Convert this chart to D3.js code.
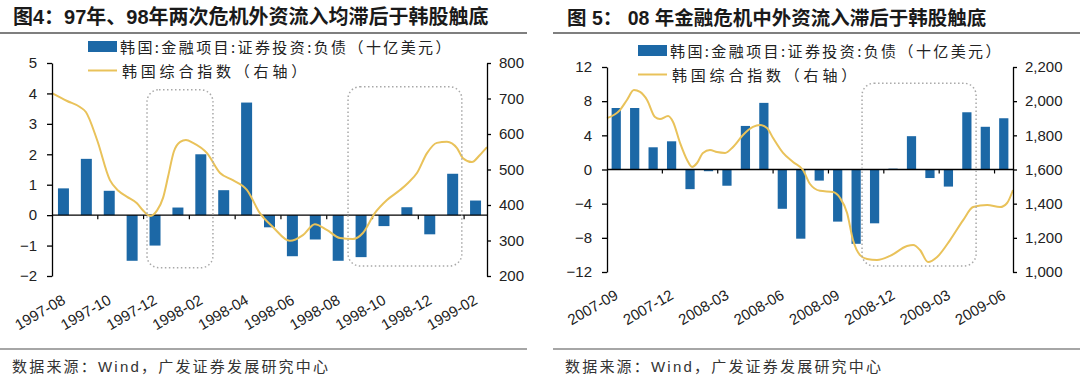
<!DOCTYPE html>
<html><head><meta charset="utf-8">
<script src="https://cdn.jsdelivr.net/npm/d3@7"></script>
<style>
body{margin:0;background:#fff;}
svg{display:block;}
</style></head><body><svg id="c" width="1080" height="391"></svg>
<script>
// ---------- DATA ----------
const months97 = ["1997-08","1997-09","1997-10","1997-11","1997-12","1998-01","1998-02","1998-03","1998-04","1998-05","1998-06","1998-07","1998-08","1998-09","1998-10","1998-11","1998-12","1999-01","1999-02"];
const flows97 = [0.88,1.85,0.8,-1.5,-1.0,0.25,2.0,0.82,3.7,-0.4,-1.35,-0.8,-1.5,-1.38,-0.36,0.26,-0.63,1.36,0.48];
const xTicks97 = ["1997-08","1997-10","1997-12","1998-02","1998-04","1998-06","1998-08","1998-10","1998-12","1999-02"];
const yLeftTicks97 = [-2,-1,0,1,2,3,4,5];
const yRightTicks97 = [200,300,400,500,600,700,800];
// KOSPI (right axis), position in months from start of 1997-08
const kospi97Pos = [0,0.66,1.22,1.48,1.97,2.53,2.9,3.28,3.71,3.97,4.28,4.59,4.85,5.07,5.32,5.6,5.85,6.16,6.77,7.34,7.9,8.52,9.08,9.65,10.39,10.96,11.48,12.0,12.58,13.14,13.58,14.1,14.63,15.2,15.55,15.94,16.38,16.81,17.25,17.69,17.95,18.34,18.69,19.0];
const kospi97Val = [715,693,676,662,583,470,440,423,405,385,369,385,420,480,550,578,583,575,546,490,470,442,377,338,299,315,346,330,307,304,321,377,414,442,462,490,546,575,578,560,532,521,541,563];

const months08 = ["2007-09","2007-10","2007-11","2007-12","2008-01","2008-02","2008-03","2008-04","2008-05","2008-06","2008-07","2008-08","2008-09","2008-10","2008-11","2008-12","2009-01","2009-02","2009-03","2009-04","2009-05","2009-06"];
const flows08 = [7.2,7.2,2.6,3.3,-2.3,-0.2,-1.9,5.1,7.8,-4.6,-8.1,-1.3,-6.1,-8.7,-6.3,0.1,3.9,-1.0,-2.0,6.7,5.0,6.0];
const xTicks08 = ["2007-09","2007-12","2008-03","2008-06","2008-09","2008-12","2009-03","2009-06"];
const yLeftTicks08 = [-12,-8,-4,0,4,8,12];
const yRightTicks08 = [1000,1200,1400,1600,1800,2000,2200];
const kospi08Pos = [0,0.7,1.08,1.46,1.79,2.17,2.6,2.87,3.31,3.58,3.96,4.34,4.61,4.88,5.2,5.58,5.96,6.4,6.83,7.37,7.91,8.29,8.67,9.0,9.54,10.08,10.62,11.0,11.54,12.25,12.63,13.01,13.33,13.71,14.09,14.63,15.34,16.26,16.59,16.96,17.4,17.89,18.59,19.3,19.84,20.6,21.3,21.68,22.0];
const kospi08Val = [1901,1948,2007,2065,2054,2007,1907,1895,1913,1878,1755,1656,1615,1638,1697,1714,1702,1697,1732,1802,1849,1860,1843,1784,1697,1644,1597,1515,1475,1468,1433,1345,1187,1099,1076,1070,1094,1152,1158,1129,1058,1088,1187,1304,1380,1392,1380,1404,1480];

const title97 = "图4：97年、98年两次危机外资流入均滞后于韩股触底";
const title08 = "图 5： 08 年金融危机中外资流入滞后于韩股触底";
const legendBar = "韩国:金融项目:证券投资:负债（十亿美元）";
const legendLine = "韩国综合指数（右轴）";
const sourceText = "数据来源：Wind，广发证券发展研究中心";

// highlight boxes: [startMonthPos, endMonthPos, leftAxisTop, leftAxisBottom]
const boxes97 = [[4.15,7.03,4.12,-1.73],[12.93,17.9,4.22,-1.67]];
const boxes08 = [[13.82,20.0,10.1,-11.3]];

// ---------- DRAW ----------
const BLUE = "#1c68a6", GOLD = "#e9c25a";
const NUM = "'Liberation Sans', Arial, sans-serif";
const CJK = "'Noto Sans CJK SC', sans-serif";
const MIX = "'Liberation Sans', 'Noto Sans CJK SC', sans-serif";
const svg = d3.select("#c");

function panel(o){
  const g = svg.append("g");
  const n = o.cats.length;
  const x = d3.scaleBand().domain(o.cats).range([o.x0,o.x1]).paddingInner(o.pad).paddingOuter(o.pad/2);
  const xl = d3.scaleLinear().domain([0,n]).range([o.x0,o.x1]);
  const yl = d3.scaleLinear().domain(o.yLdom).range([o.yb,o.yt]);
  const yr = d3.scaleLinear().domain(o.yRdom).range([o.yb,o.yt]);

  // title + rules
  g.append("text").attr("x",o.titleX).attr("y",o.titleY).attr("font-family",MIX).attr("font-weight","bold")
    .attr("font-size",o.titleSize).attr("fill","#1a1a1a").attr("dominant-baseline","central").text(o.title);
  g.append("line").attr("x1",o.ruleX0).attr("x2",o.ruleX1).attr("y1",33).attr("y2",33).attr("stroke","#555").attr("stroke-width",1.6);
  g.append("line").attr("x1",o.ruleX0).attr("x2",o.ruleX1).attr("y1",349).attr("y2",349).attr("stroke","#888").attr("stroke-width",1.6);
  g.append("text").attr("x",o.srcX).attr("y",366).attr("font-family",MIX).attr("font-size",15)
    .attr("letter-spacing",2.2).attr("fill","#333").attr("dominant-baseline","central").text(sourceText);

  // bars
  g.append("g").selectAll("rect").data(o.vals).join("rect")
    .attr("x",(d,i)=>x(o.cats[i])).attr("width",x.bandwidth())
    .attr("y",d=>yl(Math.max(0,d))).attr("height",d=>Math.abs(yl(d)-yl(0)))
    .attr("fill",BLUE);

  // zero axis with ticks at category boundaries
  const y0 = yl(0);
  g.append("line").attr("x1",o.x0).attr("x2",o.x1).attr("y1",y0).attr("y2",y0).attr("stroke","#000").attr("stroke-width",1.3);
  const tb = d3.range(o.step, n, o.step);
  g.append("g").selectAll("line").data(tb).join("line")
    .attr("x1",d=>xl(d)).attr("x2",d=>xl(d)).attr("y1",y0).attr("y2",y0+4).attr("stroke","#000").attr("stroke-width",1.2);

  // x labels
  g.append("g").selectAll("text").data(o.xTicks).join("text")
    .attr("transform",d=>`translate(${x(d)+x.bandwidth()/2+3},${o.labY}) rotate(-30)`)
    .attr("text-anchor","end").attr("font-family",NUM).attr("font-size",15).attr("fill","#222").text(d=>d);

  // line
  const pts = o.linePos.map((p,i)=>[p,o.lineVal[i]]);
  g.append("path").datum(pts).attr("fill","none").attr("stroke",GOLD).attr("stroke-width",2)
    .attr("d",d3.line().x(d=>xl(d[0])).y(d=>yr(d[1])).curve(d3.curveMonotoneX));

  // boxes
  g.append("g").selectAll("rect").data(o.boxes).join("rect")
    .attr("x",d=>xl(d[0])).attr("width",d=>xl(d[1])-xl(d[0]))
    .attr("y",d=>yl(d[2])).attr("height",d=>yl(d[3])-yl(d[2]))
    .attr("rx",12).attr("ry",12).attr("fill","none").attr("stroke","#a8a8a8").attr("stroke-width",1.5).attr("stroke-dasharray","1.5,2.5");

  // y axes
  const aL = g.append("g").attr("transform",`translate(${o.x0},0)`)
    .call(d3.axisLeft(yl).tickValues(o.yLticks).tickSize(5).tickSizeOuter(0).tickPadding(10).tickFormat(d3.format("d")));
  const aR = g.append("g").attr("transform",`translate(${o.x1},0)`)
    .call(d3.axisRight(yr).tickValues(o.yRticks).tickSize(4).tickSizeOuter(0).tickPadding(8).tickFormat(o.rFmt));
  [aL,aR].forEach(a=>{
    a.selectAll("path,line").attr("stroke","#000").attr("stroke-width",1.3);
    a.selectAll("text").attr("font-family",NUM).attr("font-size",15).attr("fill","#222");
  });

  // legend
  const lg = g.append("g");
  lg.append("rect").attr("x",o.legX).attr("y",o.legY-5.5).attr("width",29).attr("height",11).attr("fill",BLUE);
  lg.append("text").attr("x",o.legX+32).attr("y",o.legY).attr("dominant-baseline","central")
    .attr("font-family",CJK).attr("font-size",15).attr("letter-spacing",2.4).attr("fill","#222").text(legendBar);
  lg.append("line").attr("x1",o.legX).attr("x2",o.legX+29).attr("y1",o.legY+24).attr("y2",o.legY+24).attr("stroke",GOLD).attr("stroke-width",2);
  lg.append("text").attr("x",o.legX+34).attr("y",o.legY+24).attr("dominant-baseline","central")
    .attr("font-family",CJK).attr("font-size",15).attr("letter-spacing",3.8).attr("fill","#222").text(legendLine);
}

panel({cats:months97, vals:flows97, xTicks:xTicks97, step:2, pad:0.52,
  x0:52, x1:487, yt:63, yb:276, yLdom:[-2,5], yRdom:[200,800], yLticks:yLeftTicks97, yRticks:yRightTicks97,
  rFmt:d3.format("d"), linePos:kospi97Pos, lineVal:kospi97Val, boxes:boxes97, labY:303,
  title:title97, titleX:13, titleY:17, titleSize:20, ruleX0:0, ruleX1:527, srcX:12,
  legX:88, legY:46.5});

panel({cats:months08, vals:flows08, xTicks:xTicks08, step:3, pad:0.5,
  x0:607, x1:1013, yt:67, yb:272, yLdom:[-12,12], yRdom:[1000,2200], yLticks:yLeftTicks08, yRticks:yRightTicks08,
  rFmt:d3.format(","), linePos:kospi08Pos, lineVal:kospi08Val, boxes:boxes08, labY:298,
  title:title08, titleX:567, titleY:18, titleSize:19.5, ruleX0:553, ruleX1:1080, srcX:565,
  legX:638, legY:50.5});
</script>
</body></html>
